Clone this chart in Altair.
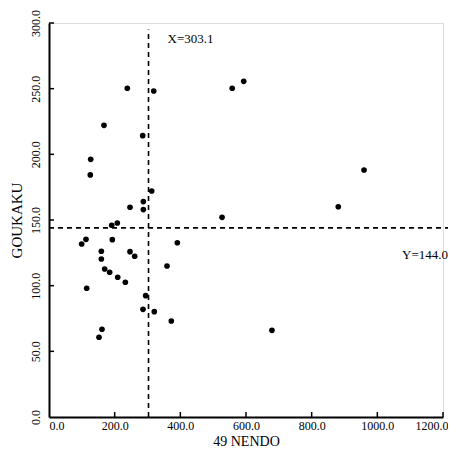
import altair as alt
import pandas as pd

# Data
nendo49 = [238.5, 319, 558, 593, 167.5, 285.4, 959.5, 312.8, 127, 125.8,
           287.3, 287.3, 246.7, 881, 527, 191, 208, 112.7, 99.5, 192.8,
           390.9, 159.4, 159.4, 246.7, 261, 359.4, 169.6, 184.8, 209.3, 232.5,
           114.8, 294.5, 286.3, 320.7, 372.5, 679, 161.4, 152.3]
goukaku = [250.3, 248.2, 250.3, 255.6, 222.1, 214.2, 188.1, 172.1, 196.2, 184.3,
           164.0, 157.9, 159.7, 160.1, 152.0, 146.0, 147.7, 135.3, 131.7, 135.0,
           132.7, 126.2, 120.3, 125.9, 122.4, 115.0, 112.7, 110.2, 106.4, 102.6,
           98.0, 92.4, 82.0, 80.2, 73.1, 66.0, 66.8, 60.7]
mean_x = 303.1
mean_y = 144.0
x_ticks = [0, 200, 400, 600, 800, 1000, 1200]
y_ticks = [0, 50, 100, 150, 200, 250, 300]

W, H = 394, 394
FONT = "Liberation Serif"

df = pd.DataFrame({"x": nendo49, "y": goukaku})
xs = alt.Scale(domain=[0, 1200], nice=False, zero=False)
ys = alt.Scale(domain=[0, 300], nice=False, zero=False)

points = alt.Chart(df).mark_circle(size=32, color="black", opacity=1).encode(
    x=alt.X("x:Q", scale=xs,
            axis=alt.Axis(title="49 NENDO", values=x_ticks, format=".1f",
                          ticks=False, grid=False, domainColor="black",
                          domainWidth=2, labelFont=FONT, labelFontSize=12,
                          labelColor="black", labelPadding=3, labelFlush=False,
                          labelAlign={"expr": "datum.value == 0 ? 'left' : (datum.value == 1200 ? 'right' : 'center')"},
                          labelOffset={"expr": "datum.value == 1200 ? 5 : 0"},
                          titleFont=FONT, titleFontSize=14, titleFontWeight="normal",
                          titleColor="black", titleY=28, titleBaseline="alphabetic")),
    y=alt.Y("y:Q", scale=ys,
            axis=alt.Axis(title="GOUKAKU", values=y_ticks, format=".1f",
                          ticks=False, grid=False, domainColor="black",
                          domainWidth=2, labelFont=FONT, labelFontSize=12,
                          labelColor="black", labelAngle=270, labelAlign="center",
                          labelBaseline="bottom", labelPadding=7,
                          titleFont=FONT, titleFontSize=15, titleFontWeight="normal",
                          titleColor="black", titlePadding=5)),
)

xt = pd.DataFrame({"t": x_ticks[1:]})
yt = pd.DataFrame({"t": y_ticks[1:]})
xtick = alt.Chart(xt).mark_rule(color="black", strokeWidth=1.5).encode(
    x=alt.X("t:Q", scale=xs), y=alt.value(H), y2=alt.value(H - 5))
ytick = alt.Chart(yt).mark_rule(color="black", strokeWidth=1.5).encode(
    y=alt.Y("t:Q", scale=ys), x=alt.value(0), x2=alt.value(5))

vline = alt.Chart(pd.DataFrame({"x": [mean_x], "y0": [0], "y1": [295]})).mark_rule(
    color="black", strokeWidth=1.6, strokeDash=[5, 4]).encode(
    x=alt.X("x:Q", scale=xs), y=alt.Y("y0:Q", scale=ys), y2="y1:Q")
hline = alt.Chart(pd.DataFrame({"y": [mean_y]})).mark_rule(
    color="black", strokeWidth=1.6, strokeDash=[5, 4]).encode(
    y=alt.Y("y:Q", scale=ys), x=alt.value(0), x2=alt.value(W + 5))

xlab = alt.Chart(pd.DataFrame({"x": [mean_x], "y": [288], "t": ["X=303.1"]})).mark_text(
    font=FONT, fontSize=13, color="black", align="left", baseline="middle", dx=19).encode(
    x=alt.X("x:Q", scale=xs), y=alt.Y("y:Q", scale=ys), text="t:N")
ylab = alt.Chart(pd.DataFrame({"y": [mean_y], "t": ["Y=144.0"]})).mark_text(
    font=FONT, fontSize=13, color="black", align="right", baseline="middle", dy=27).encode(
    x=alt.value(W + 5), y=alt.Y("y:Q", scale=ys), text="t:N")

chart = alt.layer(vline, hline, xtick, ytick, points, xlab, ylab).properties(
    width=W, height=H,
    autosize=alt.AutoSizeParams(type="none"),
    padding={"left": 41, "top": 15, "right": 5, "bottom": 32},
).configure_view(stroke=None).configure(background="white")

chart.save("out.html", embed_options={"renderer": "svg", "actions": False})
